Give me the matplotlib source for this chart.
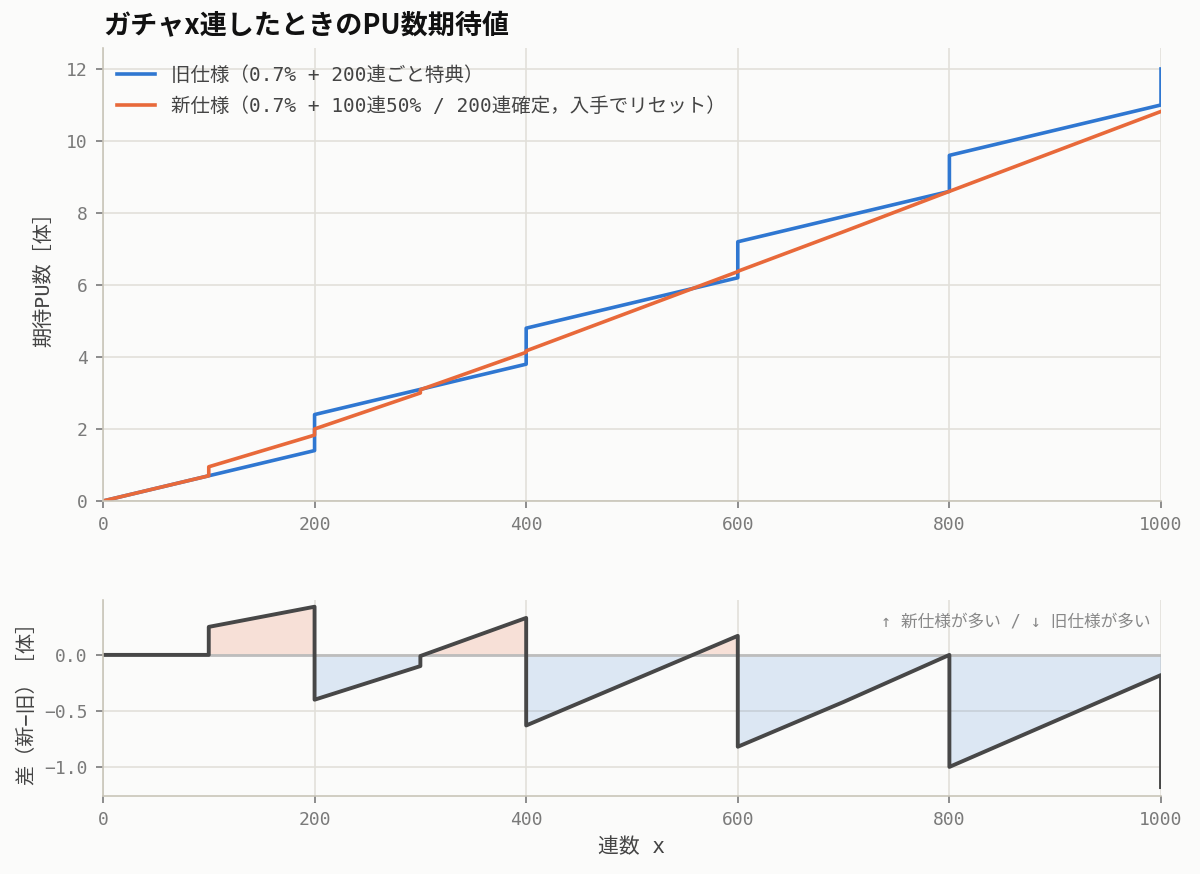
import numpy as np
import matplotlib
matplotlib.use("Agg")
import matplotlib.pyplot as plt

plt.rcParams['font.family'] = ['DejaVu Sans Mono', 'Noto Sans CJK JP']

# breakpoints (duplicate x = vertical jump)
x = np.array([0, 100, 100, 200, 200, 300, 300, 400, 400, 500, 600, 600,
              700, 800, 800, 900, 1000, 1000])
old = np.array([0, 0.7, 0.7, 1.4, 2.4, 3.1, 3.1, 3.8, 4.8, 5.5, 6.2, 7.2,
                7.9, 8.6, 9.6, 10.3, 11.0, 12.0])
new = np.array([0, 0.7, 0.95, 1.83, 2.0, 3.0, 3.09, 4.13, 4.17, 5.27, 6.37, 6.38,
                7.48, 8.6, 8.6, 9.71, 10.82, 10.82])
diff = new - old

label_old = "旧仕様（0.7% + 200連ごと特典）"
label_new = "新仕様（0.7% + 100連50% / 200連確定，入手でリセット）"
title = "ガチャx連したときのPU数期待値"

c_old = "#2f77d1"
c_new = "#e8693a"
grid_c = "#e2e0da"
spine_c = "#c9c5b9"
tick_c = "#7a7a7a"

fig = plt.figure(figsize=(12, 8.74), dpi=100, facecolor="#fbfbfa")
ax1 = fig.add_axes([0.0858, 0.4268, 0.8817, 0.5182])
ax2 = fig.add_axes([0.0858, 0.0892, 0.8817, 0.2243])

for ax in (ax1, ax2):
    ax.set_facecolor("#fbfbfa")
    for s in ("top", "right"):
        ax.spines[s].set_visible(False)
    for s in ("left", "bottom"):
        ax.spines[s].set_color(spine_c)
        ax.spines[s].set_linewidth(1.2)
    ax.grid(True, color=grid_c, linewidth=1.2)
    ax.set_axisbelow(True)
    ax.tick_params(colors=tick_c, labelsize=13, length=5, width=1.2, pad=6,
                   labelcolor=tick_c)
    ax.set_xlim(0, 1000)
    ax.set_xticks([0, 200, 400, 600, 800, 1000])

ax1.plot(x, old, color=c_old, lw=2.6, label=label_old)
ax1.plot(x, new, color=c_new, lw=2.6, label=label_new)
ax1.set_ylim(0, 12.58)
ax1.set_yticks([0, 2, 4, 6, 8, 10, 12])
ax1.set_ylabel("期待PU数［体］", fontsize=14.5, color="#444444")
ax1.yaxis.set_label_coords(-0.047, 0.5)
leg = ax1.legend(loc="upper left", bbox_to_anchor=(0.0, 0.99), frameon=False,
                 fontsize=14, handlelength=2.0, borderaxespad=0.3, labelspacing=0.6)
for t in leg.get_texts():
    t.set_color("#444444")

fig.text(0.0858, 0.970, title, fontsize=19.5, fontweight="bold",
         family=['Noto Sans CJK JP', 'DejaVu Sans'], ha="left", va="center", color="#111111")

ax2.axhline(0, color="#bdbdbd", lw=2)
ax2.fill_between(x, diff, 0, where=diff > 0, interpolate=True, color=c_new, alpha=0.18, lw=0)
ax2.fill_between(x, diff, 0, where=diff < 0, interpolate=True, color=c_old, alpha=0.15, lw=0)
ax2.plot(x, diff, color="#474747", lw=2.8)
ax2.set_ylim(-1.26, 0.49)
ax2.set_yticks([-1.0, -0.5, 0.0])
ax2.set_yticklabels(["−1.0", "−0.5", "0.0"])
ax2.set_ylabel("差（新−旧）［体］", fontsize=14.5, color="#444444")
ax2.yaxis.set_label_coords(-0.063, 0.5)
ax2.set_xlabel("連数 x", fontsize=15, color="#444444", labelpad=6)
ax2.text(0.99, 0.89, "↑ 新仕様が多い / ↓ 旧仕様が多い", transform=ax2.transAxes,
         ha="right", va="center", fontsize=12, color="#888888")

fig.savefig("out.png", dpi=100, facecolor=fig.get_facecolor())
